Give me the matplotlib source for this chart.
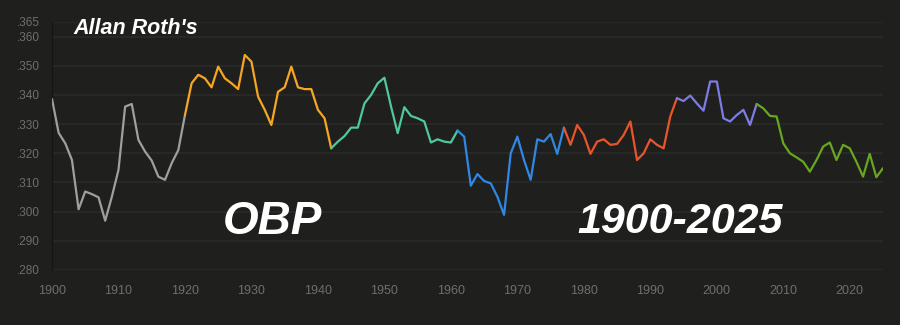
import numpy as np
import matplotlib
matplotlib.use("Agg")
import matplotlib.pyplot as plt
from matplotlib.ticker import FuncFormatter

# league on-base percentage by season, 1900-2025
years = np.arange(1900, 2026)
obp = [
    0.3386, 0.3270, 0.3234, 0.3177, 0.3008, 0.3069, 0.3060, 0.3049, 0.2969, 0.3051,  # 1900s
    0.3143, 0.3360, 0.3369, 0.3246, 0.3206, 0.3175, 0.3120, 0.3109, 0.3166, 0.3211,  # 1910s
    0.3331, 0.3440, 0.3469, 0.3457, 0.3426, 0.3497, 0.3457, 0.3440, 0.3420, 0.3537,  # 1920s
    0.3514, 0.3394, 0.3349, 0.3297, 0.3411, 0.3426, 0.3497, 0.3426, 0.3420, 0.3420,  # 1930s
    0.3349, 0.3320, 0.3217, 0.3240, 0.3259, 0.3288, 0.3288, 0.3371, 0.3400, 0.3440,  # 1940s
    0.3459, 0.3360, 0.3269, 0.3358, 0.3328, 0.3320, 0.3309, 0.3237, 0.3248, 0.3240,  # 1950s
    0.3237, 0.3278, 0.3257, 0.3089, 0.3129, 0.3105, 0.3097, 0.3051, 0.2989, 0.3200,  # 1960s
    0.3257, 0.3177, 0.3109, 0.3248, 0.3240, 0.3266, 0.3198, 0.3288, 0.3229, 0.3297,  # 1970s
    0.3263, 0.3198, 0.3240, 0.3248, 0.3229, 0.3232, 0.3263, 0.3309, 0.3177, 0.3200,  # 1980s
    0.3248, 0.3229, 0.3217, 0.3326, 0.3389, 0.3379, 0.3398, 0.3371, 0.3346, 0.3446,  # 1990s
    0.3446, 0.3320, 0.3309, 0.3331, 0.3349, 0.3297, 0.3369, 0.3354, 0.3328, 0.3326,  # 2000s
    0.3234, 0.3200, 0.3186, 0.3171, 0.3137, 0.3177, 0.3223, 0.3237, 0.3177, 0.3229,  # 2010s
    0.3217, 0.3171, 0.3120, 0.3198, 0.3118, 0.3149,                                  # 2020s
]

# colour eras: boundaries are shared years
era_bounds = [1900, 1920, 1942, 1961, 1977, 1994, 2006, 2025]
era_colors = ["#a09f9a", "#f5a623", "#4fc99b", "#2e88e4", "#e8552b", "#7d7ce6", "#68a620"]

y_ticks = [0.280, 0.290, 0.300, 0.310, 0.320, 0.330, 0.340, 0.350, 0.360, 0.365]
x_ticks = np.arange(1900, 2021, 10)

bg = "#1f1f1e"
grid_c = "#2b2b2a"
tick_c = "#6e6e6c"

plt.rcParams["font.family"] = ["Liberation Sans", "DejaVu Sans"]

fig = plt.figure(figsize=(9, 3.25), dpi=100, facecolor=bg)
ax = fig.add_axes([52 / 900, 1 - 270 / 325, (883 - 52) / 900, (270 - 22) / 325])
ax.set_facecolor(bg)

obp = np.array(obp)
for i in range(len(era_colors)):
    m = (years >= era_bounds[i]) & (years <= era_bounds[i + 1])
    ax.plot(years[m], obp[m], color=era_colors[i], lw=1.6,
            solid_joinstyle="round", solid_capstyle="round", zorder=3)

ax.set_xlim(1900, 2025)
ax.set_ylim(0.280, 0.365)
ax.set_xticks(x_ticks)
ax.set_yticks(y_ticks)
ax.yaxis.set_major_formatter(FuncFormatter(lambda v, p: "." + ("%.3f" % v)[2:]))
ax.grid(axis="y", color=grid_c, lw=1.2)
ax.tick_params(axis="x", colors=tick_c, labelsize=9, length=0, pad=11)
ax.tick_params(axis="y", colors=tick_c, labelsize=8.5, length=0, pad=9)
for s in ["top", "right", "bottom"]:
    ax.spines[s].set_visible(False)
ax.spines["left"].set_color("#151515")
ax.spines["left"].set_linewidth(1)

fig.text(73 / 900, 1 - 28 / 325, "Allan Roth's", color="white", fontsize=15.5,
         fontweight="bold", style="italic", va="center", ha="left")
fig.text(272 / 900, 1 - 222 / 325, "OBP", color="white", fontsize=33,
         fontweight="bold", style="italic", va="center", ha="center")
fig.text(680 / 900, 1 - 222 / 325, "1900-2025", color="white", fontsize=31,
         fontweight="bold", style="italic", va="center", ha="center")

fig.savefig("out.png", dpi=100, facecolor=bg)
